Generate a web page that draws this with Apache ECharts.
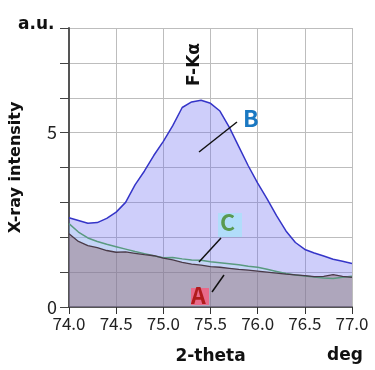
<!DOCTYPE html>
<html>
<head>
<meta charset="utf-8">
<script src="https://cdn.jsdelivr.net/npm/echarts@6/dist/echarts.min.js"></script>
<style>
  html, body { margin: 0; padding: 0; background: #fff; }
  #main { width: 375px; height: 370px; }
</style>
</head>
<body>
<div id="main"></div>
<script>
  // 2-theta (deg)
  var theta = [74.0, 74.1, 74.2, 74.3, 74.4, 74.5, 74.6, 74.7, 74.8, 74.9,
               75.0, 75.1, 75.2, 75.3, 75.4, 75.5, 75.6, 75.7, 75.8, 75.9,
               76.0, 76.1, 76.2, 76.3, 76.4, 76.5, 76.6, 76.7, 76.8, 76.9, 77.0];
  var seriesB = [2.56, 2.48, 2.40, 2.42, 2.54, 2.72, 3.00, 3.50, 3.90, 4.35,
                 4.75, 5.20, 5.72, 5.88, 5.93, 5.84, 5.62, 5.15, 4.60, 4.05,
                 3.55, 3.10, 2.62, 2.18, 1.85, 1.65, 1.55, 1.46, 1.37, 1.31, 1.25];
  var seriesC = [2.39, 2.15, 1.98, 1.88, 1.80, 1.73, 1.66, 1.59, 1.53, 1.47,
                 1.41, 1.42, 1.38, 1.35, 1.34, 1.30, 1.27, 1.24, 1.21, 1.17,
                 1.14, 1.08, 1.02, 0.96, 0.92, 0.89, 0.86, 0.83, 0.82, 0.85, 0.88];
  var seriesA = [2.10, 1.88, 1.76, 1.70, 1.62, 1.57, 1.58, 1.54, 1.50, 1.47,
                 1.40, 1.35, 1.28, 1.23, 1.20, 1.16, 1.14, 1.11, 1.08, 1.06,
                 1.03, 1.00, 0.97, 0.94, 0.92, 0.90, 0.87, 0.88, 0.93, 0.88, 0.85];
  var yLabels = { 0: '0', 5: '5' };

  function pairs(ys) {
    return theta.map(function (x, i) { return [x, ys[i]]; });
  }

  var font = '"Noto Sans CJK JP", "Noto Sans", sans-serif';
  var boldFont = '"DejaVu Sans", sans-serif';
  var myChart = echarts.init(document.getElementById('main'));

  var option = {
    animation: false,
    grid: { left: 57, right: 23, top: 28, bottom: 61 },
    xAxis: {
      type: 'value',
      min: 74, max: 77, interval: 0.5,
      name: '2-theta',
      nameLocation: 'middle',
      nameGap: 41,
      nameTextStyle: { fontFamily: boldFont, fontSize: 17, fontWeight: 'bold', color: '#111' },
      axisLine: { lineStyle: { color: '#333', width: 1.5 } },
      axisTick: { length: 7, lineStyle: { color: '#333' } },
      axisLabel: {
        fontFamily: font, fontSize: 17, color: '#222', margin: 8,
        formatter: function (v) { return v.toFixed(1); }
      },
      splitLine: { show: true, lineStyle: { color: '#bdbdbd', width: 1, type: 'solid' } }
    },
    yAxis: {
      type: 'value',
      min: 0, max: 8, interval: 1,
      name: 'X-ray intensity',
      nameLocation: 'middle',
      nameGap: 45,
      nameRotate: 90,
      nameTextStyle: { fontFamily: boldFont, fontSize: 16, fontWeight: 'bold', color: '#111' },
      axisLine: { show: true, lineStyle: { color: '#555', width: 2 } },
      axisTick: { show: true, length: 9, lineStyle: { color: '#444' } },
      axisLabel: {
        fontFamily: font, fontSize: 18, color: '#222', margin: 12,
        formatter: function (v) { return yLabels[v] || ''; }
      },
      splitLine: { show: true, lineStyle: { color: '#bdbdbd', width: 1, type: 'solid' } }
    },
    series: [
      {
        name: 'B', type: 'line', data: pairs(seriesB), symbol: 'none',
        lineStyle: { color: '#3535c8', width: 1.5 },
        areaStyle: { color: 'rgba(100,100,240,0.45)' }
      },
      {
        name: 'C', type: 'line', data: pairs(seriesC), symbol: 'none',
        lineStyle: { color: '#5a9a80', width: 1.5 },
        areaStyle: { color: 'rgba(160,235,235,0.3)' }
      },
      {
        name: 'A', type: 'line', data: pairs(seriesA), symbol: 'none',
        lineStyle: { color: '#4a3a48', width: 1.3 },
        areaStyle: { color: 'rgba(130,80,80,0.5)' }
      }
    ],
    graphic: [
      { type: 'text', left: 18, top: 16, z: 100,
        style: { text: 'a.u.', font: 'bold 17px ' + boldFont, fill: '#111' } },
      { type: 'text', left: 327, top: 347, z: 100,
        style: { text: 'deg', font: 'bold 17px ' + boldFont, fill: '#111' } },
      { type: 'group', x: 186, y: 86, rotation: Math.PI / 2, z: 100,
        children: [
          { type: 'text', x: 0, y: 0, z: 100,
            style: { text: 'F-Kα', font: 'bold 17px ' + boldFont, fill: '#111' } }
        ] },
      // callouts
      { type: 'line', z: 100, shape: { x1: 199, y1: 152, x2: 237, y2: 122 },
        style: { stroke: '#111', lineWidth: 1.5 } },
      { type: 'text', x: 243, y: 107, z: 100,
        style: { text: 'B', font: 'bold 23px ' + font, fill: '#1a78c2' } },
      { type: 'line', z: 100, shape: { x1: 199, y1: 262, x2: 221, y2: 238 },
        style: { stroke: '#111', lineWidth: 1.5 } },
      { type: 'rect', z: 99, shape: { x: 218, y: 213, width: 24, height: 24 },
        style: { fill: 'rgba(170,225,250,0.8)' } },
      { type: 'text', x: 220, y: 211, z: 100,
        style: { text: 'C', font: 'bold 23px ' + font, fill: '#5a9a50' } },
      { type: 'line', z: 100, shape: { x1: 212, y1: 292, x2: 224, y2: 275 },
        style: { stroke: '#111', lineWidth: 1.5 } },
      { type: 'rect', z: 99, shape: { x: 191, y: 288, width: 18, height: 17 },
        style: { fill: '#e86a8a' } },
      { type: 'text', x: 191, y: 284, z: 100,
        style: { text: 'A', font: 'bold 23px ' + font, fill: '#b01c1c' } }
    ]
  };

  myChart.setOption(option);
</script>
</body>
</html>
